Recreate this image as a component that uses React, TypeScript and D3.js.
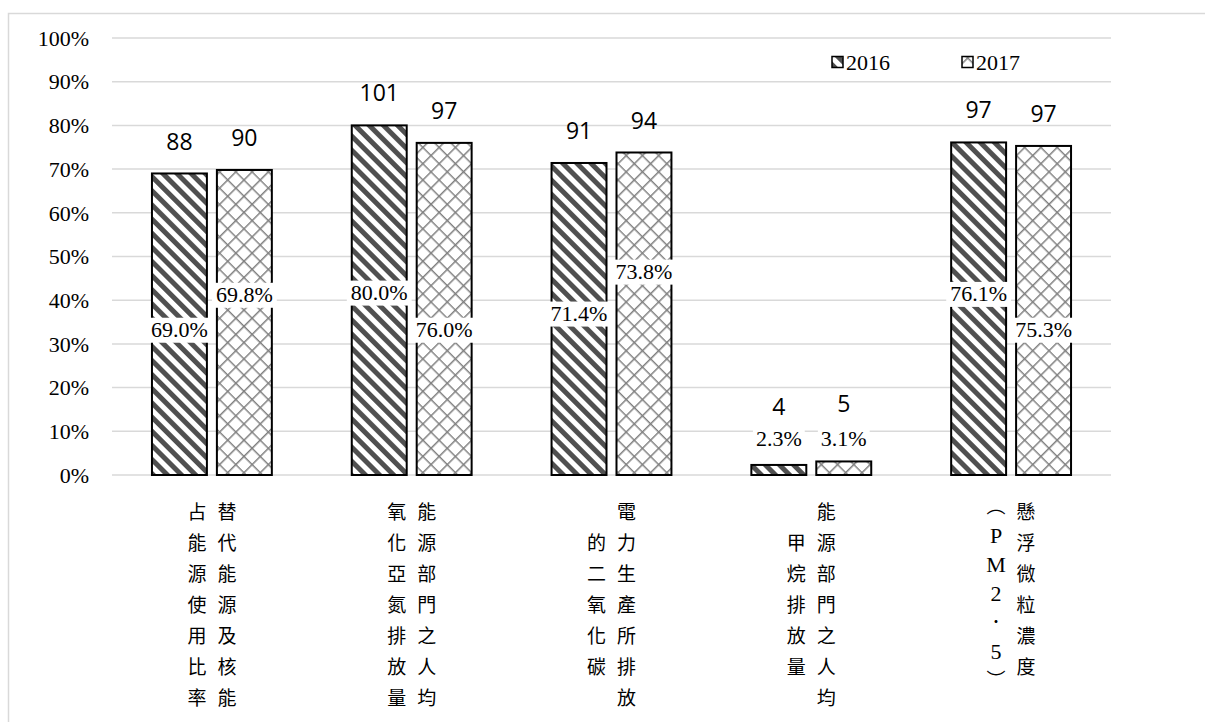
import React, { useEffect, useRef } from 'react';
import * as d3 from 'd3';

// chart values
const years = ['2016', '2017'];
const share2016 = [69.0, 80.0, 71.4, 2.3, 76.1];
const share2017 = [69.8, 76.0, 73.8, 3.1, 75.3];
const count2016 = [88, 101, 91, 4, 97];
const count2017 = [90, 97, 94, 5, 97];

// category labels, written vertically: right column first, then left column
const categoryColumns = [
  ['替代能源及核能', '占能源使用比率'],
  ['能源部門之人均', '氧化亞氮排放量'],
  ['電力生產所排放', '的二氧化碳'],
  ['能源部門之人均', '甲烷排放量'],
  ['懸浮微粒濃度', '︵PM2．5︶'],
];

// where the percentage labels were dragged to (in % of the axis)
const pctLabelLevel2016 = [33.4, 41.9, 37.1, 8.5, 41.6];
const pctLabelLevel2017 = [41.4, 33.4, 46.7, 8.5, 33.4];

const yTicks = [0, 0.1, 0.2, 0.3, 0.4, 0.5, 0.6, 0.7, 0.8, 0.9, 1];

const SERIF = '"Liberation Serif", serif';
const CJK = '"Liberation Serif", "Noto Sans CJK TC", serif';
const SANS = '"Open Sans", "Liberation Sans", sans-serif';

const App: React.FC = () => {
  const ref = useRef<SVGSVGElement>(null);

  useEffect(() => {
    if (!ref.current) return;
    const svg = d3.select(ref.current);
    svg.selectAll('*').remove();

    const width = 1205;
    const height = 722;
    const left = 112;
    const right = 1111;
    const top = 38;
    const bottom = 475;

    // patterns
    const defs = svg.append('defs');
    const stripe = defs
      .append('pattern')
      .attr('id', 'p2016')
      .attr('patternUnits', 'userSpaceOnUse')
      .attr('width', 10)
      .attr('height', 10)
      .attr('patternTransform', 'rotate(-45)');
    stripe.append('rect').attr('width', 10).attr('height', 10).attr('fill', '#fff');
    stripe.append('rect').attr('x', 0).attr('width', 5).attr('height', 10).attr('fill', '#505050');

    const cross = defs
      .append('pattern')
      .attr('id', 'p2017')
      .attr('patternUnits', 'userSpaceOnUse')
      .attr('width', 11.5)
      .attr('height', 11.5)
      .attr('patternTransform', 'rotate(45)');
    cross.append('rect').attr('width', 11.5).attr('height', 11.5).attr('fill', '#fff');
    cross
      .append('path')
      .attr('d', 'M0,0.75 H11.5 M0.75,0 V11.5')
      .attr('stroke', '#808080')
      .attr('stroke-width', 1.5)
      .attr('fill', 'none');

    // outer frame
    svg
      .append('rect')
      .attr('x', 8.5)
      .attr('y', 13.5)
      .attr('width', width + 20)
      .attr('height', height + 20)
      .attr('fill', 'none')
      .attr('stroke', '#d9d9d9')
      .attr('stroke-width', 1.5);

    const y = d3.scaleLinear().domain([0, 1]).range([bottom, top]);
    const x0 = d3
      .scaleBand<number>()
      .domain(d3.range(categoryColumns.length))
      .range([left, right])
      .padding(0);
    const bw = x0.bandwidth();
    const x1 = d3
      .scaleBand<string>()
      .domain(years)
      .range([bw * 0.2, bw * 0.8])
      .paddingInner(10 / 65);

    // gridlines
    svg
      .append('g')
      .selectAll('line')
      .data(yTicks)
      .enter()
      .append('line')
      .attr('x1', left)
      .attr('x2', right)
      .attr('y1', d => y(d))
      .attr('y2', d => y(d))
      .attr('stroke', '#d9d9d9')
      .attr('stroke-width', 1.5);

    // y tick labels
    svg
      .append('g')
      .selectAll('text')
      .data(yTicks)
      .enter()
      .append('text')
      .attr('x', 89)
      .attr('y', d => y(d))
      .attr('dy', '0.35em')
      .attr('text-anchor', 'end')
      .style('font-family', SERIF)
      .style('font-size', '22px')
      .attr('fill', '#000')
      .text(d => d3.format('.0%')(d));

    const series = [
      { year: '2016', share: share2016, count: count2016, level: pctLabelLevel2016 },
      { year: '2017', share: share2017, count: count2017, level: pctLabelLevel2017 },
    ];

    // bars
    series.forEach(s => {
      svg
        .append('g')
        .selectAll('rect')
        .data(s.share)
        .enter()
        .append('rect')
        .attr('x', (_d, i) => (x0(i) as number) + (x1(s.year) as number))
        .attr('y', d => y(d / 100))
        .attr('width', x1.bandwidth())
        .attr('height', d => bottom - y(d / 100))
        .attr('fill', `url(#p${s.year})`)
        .attr('stroke', '#000')
        .attr('stroke-width', 2);
    });

    // labels
    series.forEach(s => {
      s.share.forEach((v, i) => {
        const cx = (x0(i) as number) + (x1(s.year) as number) + x1.bandwidth() / 2;
        const barTop = y(v / 100);
        const small = v < 10;
        const ly = y(s.level[i] / 100);

        // count above the bar
        svg
          .append('text')
          .attr('x', cx)
          .attr('y', small ? barTop - 58 : barTop - 32)
          .attr('dy', '0.35em')
          .attr('text-anchor', 'middle')
          .style('font-family', SANS)
          .style('font-size', '23px')
          .attr('fill', '#000')
          .text(s.count[i]);

        // percentage with a white box behind it
        const g = svg.append('g');
        const t = g
          .append('text')
          .attr('x', cx)
          .attr('y', ly)
          .attr('dy', '0.35em')
          .attr('text-anchor', 'middle')
          .style('font-family', SERIF)
          .style('font-size', '22px')
          .attr('fill', '#000')
          .text(`${v.toFixed(1)}%`);
        const bb = (t.node() as SVGTextElement).getBBox();
        const padX = small ? 3 : 4;
        g.insert('rect', 'text')
          .attr('x', bb.x - padX)
          .attr('y', bb.y + 1)
          .attr('width', bb.width + padX * 2)
          .attr('height', bb.height)
          .attr('fill', '#fff');
      });
    });

    // vertical category labels
    const rowStep = 31;
    const firstRow = 512;
    categoryColumns.forEach((cols, i) => {
      const cx = (x0(i) as number) + bw / 2;
      cols.forEach((col, c) => {
        const chars = Array.from(col);
        const colX = c === 0 ? cx + 15 : cx - 15;
        const isParen = col.includes('︵');
        const step = isParen ? 29 : rowStep;
        const start = isParen
          ? 506
          : chars.length >= 6
          ? firstRow
          : firstRow + ((7 - chars.length) / 2) * rowStep;
        chars.forEach((ch, k) => {
          svg
            .append('text')
            .attr('x', colX)
            .attr('y', start + k * step)
            .attr('dy', '0.35em')
            .attr('text-anchor', 'middle')
            .style('font-family', CJK)
            .style('font-size', /[A-Z0-9]/.test(ch) ? '22px' : '19px')
            .attr('fill', '#000')
            .text(ch);
        });
      });
    });

    // legend
    const legendX = [832, 962];
    years.forEach((yr, i) => {
      svg
        .append('rect')
        .attr('x', legendX[i])
        .attr('y', 56.5)
        .attr('width', 11)
        .attr('height', 11)
        .attr('fill', `url(#p${yr})`)
        .attr('stroke', '#000')
        .attr('stroke-width', 1.5);
      svg
        .append('text')
        .attr('x', legendX[i] + 14)
        .attr('y', 62)
        .attr('dy', '0.35em')
        .style('font-family', SERIF)
        .style('font-size', '22px')
        .attr('fill', '#000')
        .text(yr);
    });
  }, []);

  return (
    <svg
      ref={ref}
      width={1205}
      height={722}
      style={{ position: 'absolute', left: 0, top: 0, background: '#fff' }}
    />
  );
};

export default App;
